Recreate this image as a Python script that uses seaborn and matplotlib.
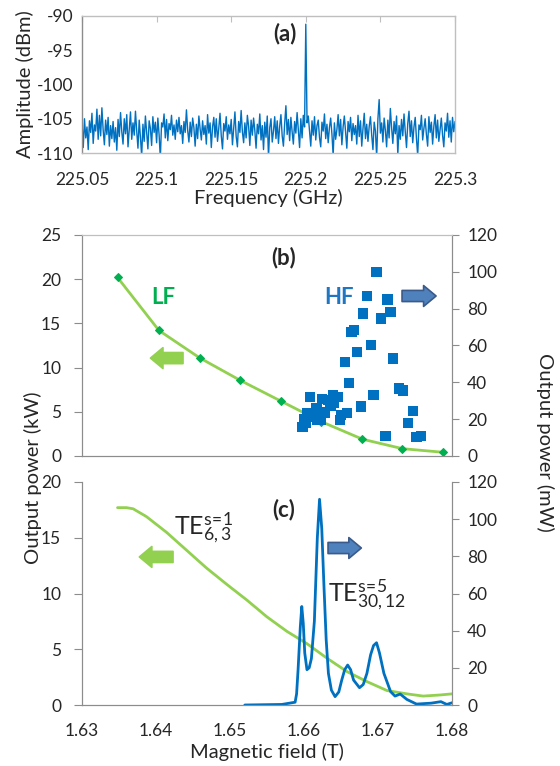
import numpy as np
import pandas as pd
import matplotlib
matplotlib.use("Agg")
import matplotlib.pyplot as plt
import seaborn as sns

# ---- panel (a): spectrum ----
amp_dbm = [
    -105.5, -109.2, -105.0, -107.8, -106.2, -109.5, -105.3, -107.0, -104.2, -108.6,
    -105.9, -106.8, -103.6, -108.0, -104.5, -107.5, -103.4, -106.6, -108.8, -105.2,
    -107.3, -104.8, -109.0, -106.0, -107.9, -105.4, -108.4, -106.3, -109.6, -105.1,
    -107.6, -104.1, -106.9, -108.7, -105.0, -107.2, -104.4, -109.1, -106.5, -104.0,
    -108.0, -105.6, -107.4, -103.9, -106.8, -109.3, -105.2, -107.7, -110.5, -105.8,
    -108.3, -104.6, -107.1, -109.4, -105.3, -106.4, -108.9, -104.7, -107.0, -105.5,
    -108.5, -104.9, -107.3, -110.8, -105.6, -106.2, -104.3, -107.8, -105.1, -108.2,
    -105.7, -106.6, -104.5, -107.4, -105.9, -108.0, -105.2, -106.9, -104.8, -107.2,
    -106.0, -108.6, -105.4, -107.0, -103.7, -106.7, -108.4, -105.5, -107.6, -104.9,
    -106.3, -109.0, -105.8, -107.9, -104.6, -106.5, -108.1, -105.3, -107.3, -106.0,
    -108.7, -104.4, -107.1, -105.6, -109.2, -106.2, -104.8, -107.7, -105.0, -108.3,
    -106.4, -104.2, -107.5, -109.4, -105.7, -106.8, -104.7, -108.0, -105.9, -107.2,
    -105.1, -108.8, -106.5, -104.0, -107.6, -109.1, -105.4, -107.0, -103.8, -106.9,
    -108.5, -105.6, -107.8, -104.5, -106.1, -108.9, -105.2, -107.4, -104.9, -106.7,
    -109.3, -105.8, -107.2, -104.3, -108.1, -106.0, -109.5, -105.5, -107.7, -104.6,
    -110.7, -106.3, -105.0, -108.4, -106.8, -104.7, -107.9, -105.3, -108.6, -106.1,
    -104.4, -107.5, -109.0, -105.7, -103.1, -107.3, -105.1, -108.2, -104.8, -106.9,
    -108.7, -105.4, -107.1, -104.1, -106.6, -109.2, -105.0, -107.8, -104.5, -106.2,
    -91.2,
    -105.6, -104.6, -106.9, -109.0, -105.3, -107.4, -104.7, -108.1, -106.0, -105.2,
    -107.7, -109.1, -105.5, -106.8, -104.3, -107.9, -105.8, -108.5, -106.3,
    -104.9, -107.2, -110.4, -105.6, -108.0, -106.6, -104.4, -107.5, -105.1, -108.8,
    -106.2, -104.6, -107.0, -109.3, -105.4, -106.9, -104.8, -108.2, -105.7, -107.3,
    -106.0, -108.7, -104.5, -107.6, -105.3, -109.0, -106.4, -104.2, -107.9, -105.8,
    -108.3, -106.1, -104.7, -107.4, -109.5, -105.5, -106.8, -110.6, -105.0, -102.2,
    -107.1, -105.6, -108.4, -104.9, -106.7, -109.1, -105.2, -107.8, -103.5, -106.3,
    -108.6, -105.4, -107.2, -104.6, -110.3, -106.0, -108.0, -105.1, -107.5, -104.3,
    -106.9, -109.2, -105.7, -103.9, -107.6, -105.3, -108.5, -106.2, -104.8, -107.9,
    -110.4, -105.9, -106.6, -104.5, -108.1, -106.4, -105.0, -107.3, -109.0, -104.7,
    -107.0, -105.5, -108.7, -106.1, -104.4, -107.8, -105.2, -108.3, -106.6, -104.9,
    -107.4, -109.1, -105.6, -106.8, -104.2, -107.7, -105.3, -108.4, -104.8, -106.9,
    -105.4,
]
freq_ghz = np.linspace(225.05, 225.3, len(amp_dbm))
freq_ticks = [225.05, 225.1, 225.15, 225.2, 225.25, 225.3]
freq_ticklabels = ["225.05", "225.1", "225.15", "225.2", "225.25", "225.3"]

# ---- panel (b): LF gyrotron (kW) and HF (mW) vs field ----
lf_field = [1.6348, 1.6404, 1.6459, 1.6514, 1.6569, 1.6623, 1.6679, 1.6733, 1.6788]
lf_power_kw = [20.2, 14.2, 11.1, 8.55, 6.2, 3.9, 1.9, 0.83, 0.42]

hf_field = [1.6698, 1.6685, 1.6713, 1.6680, 1.6717, 1.6704, 1.6668, 1.6664, 1.6691,
            1.6672, 1.6720, 1.6655, 1.6661, 1.6728, 1.6734, 1.6694, 1.6608, 1.6624,
            1.6639, 1.6646, 1.6641, 1.6633, 1.6677, 1.6747, 1.6658, 1.6650, 1.6628,
            1.6617, 1.6619, 1.6604, 1.6600, 1.6598, 1.6603, 1.6618, 1.6623, 1.6710,
            1.6741, 1.6752, 1.6758, 1.6649, 1.6612, 1.6636]
hf_power_mw = [100, 86.7, 85, 77.3, 78.2, 74.7, 68.6, 67.5, 60.3,
               56.6, 53, 50.9, 39.5, 36.7, 35.5, 33.1, 32.2, 31,
               33.1, 32.2, 28.9, 30.4, 26.8, 24.6, 23.5, 22.3, 23.7,
               25.8, 22.5, 23.2, 20, 15.6, 18.1, 19.5, 19.5, 10.9,
               18.1, 10.5, 10.9, 19.5, 21.5, 27.5]

# ---- panel (c): simulation ----
sim_lf_field = [1.6348, 1.6360, 1.6369, 1.6387, 1.6414, 1.6441, 1.6468, 1.6496,
                1.6523, 1.6550, 1.6577, 1.6604, 1.6631, 1.6658, 1.6685, 1.6712,
                1.6739, 1.6761, 1.6784, 1.6800]
sim_lf_kw = [17.7, 17.7, 17.6, 16.9, 15.5, 13.9, 12.3, 10.8,
             9.4, 7.9, 6.6, 5.5, 4.2, 3.0, 2.1, 1.3,
             1.0, 0.8, 0.9, 1.0]

sim_hf_field = [1.6520, 1.6570, 1.6588, 1.6590, 1.6592, 1.6595, 1.6597, 1.6599,
                1.6601, 1.6604, 1.6607, 1.6610, 1.6614, 1.6618, 1.6621, 1.6624,
                1.6627, 1.6630, 1.6633, 1.6637, 1.6642, 1.6647, 1.6651, 1.6655,
                1.6659, 1.6663, 1.6667, 1.6675, 1.6680, 1.6685, 1.6690, 1.6694,
                1.6698, 1.6702, 1.6708, 1.6717, 1.6723, 1.6730, 1.6739, 1.6752,
                1.6772, 1.6785, 1.6793, 1.6800]
sim_hf_mw = [0, 0.3, 1.5, 6, 19, 42, 53, 44,
             28, 19, 20, 25, 45, 90, 110.7, 95,
             63.7, 35, 17, 8, 4.5, 7, 13.4, 19,
             21.5, 19, 13.4, 9.3, 11, 17, 27, 32,
             33.5, 28, 17, 7.2, 4.8, 5.9, 3, 0.5,
             1, 1.8, 0.3, 1.2]

BLUE = "#0070c0"
LGREEN = "#92d050"
DGREEN = "#00b050"
GRAY = "#8c8c8c"
LGRAY = "#bfbfbf"

sns.set_style("white")
plt.rcParams["font.family"] = ["Lato", "DejaVu Sans"]
plt.rcParams["mathtext.fontset"] = "custom"
plt.rcParams["mathtext.rm"] = "Lato"
plt.rcParams["mathtext.it"] = "Lato:italic"
plt.rcParams["axes.unicode_minus"] = False

TICK_FS = 12.5
LABEL_FS = 14.5

W, H = 560, 766
fig = plt.figure(figsize=(W / 100, H / 100), dpi=100)


def box(left, top, right, bottom):
    return [left / W, 1 - bottom / H, (right - left) / W, (bottom - top) / H]


# ---------------- (a) ----------------
axa = fig.add_axes(box(82, 16, 455, 153))
sns.lineplot(x=freq_ghz, y=amp_dbm, ax=axa, color=BLUE, lw=1.0, estimator=None)
axa.set_xlim(225.05, 225.3)
axa.set_ylim(-110, -90)
axa.set_xticks(freq_ticks)
axa.set_xticklabels(freq_ticklabels)
axa.set_yticks([-110, -105, -100, -95, -90])
axa.tick_params(direction="in", length=4, color=LGRAY, labelsize=TICK_FS,
                top=True, right=False, pad=6)
axa.tick_params(axis="x", pad=14)
for side, sp in axa.spines.items():
    sp.set_color(LGRAY if side != "left" else GRAY)
    sp.set_linewidth(1.0)
axa.set_xlabel("Frequency (GHz)", fontsize=LABEL_FS, labelpad=0)
axa.set_ylabel("Amplitude (dBm)", fontsize=LABEL_FS, labelpad=2)
axa.text(0.545, 0.875, "(a)", transform=axa.transAxes, ha="center", va="center",
         fontsize=16, fontweight="bold")


def arrow(ax, x0, x1, y, fc, ec):
    ax.annotate("", xy=(x1, y), xytext=(x0, y), xycoords="axes fraction",
                textcoords="axes fraction",
                arrowprops=dict(arrowstyle="simple,head_width=15,head_length=9,tail_width=8",
                                mutation_scale=1, fc=fc, ec=ec, lw=1.2,
                                shrinkA=0, shrinkB=0))


# ---------------- (b) ----------------
axb = fig.add_axes(box(82, 235, 452, 456))
axb2 = axb.twinx()
sns.lineplot(x=lf_field, y=lf_power_kw, ax=axb, color=LGREEN, lw=2.0,
             marker="D", markersize=4.5, markerfacecolor=DGREEN,
             markeredgecolor=DGREEN, estimator=None)
sns.scatterplot(x=hf_field, y=hf_power_mw, ax=axb2, color=BLUE, marker="s",
                s=55, edgecolor="none", zorder=3)
axb.set_xlim(1.63, 1.68)
axb.set_ylim(0, 25)
axb2.set_ylim(0, 120)
axb.set_yticks([0, 5, 10, 15, 20, 25])
axb2.set_yticks([0, 20, 40, 60, 80, 100, 120])
axb.set_xticks([1.63, 1.64, 1.65, 1.66, 1.67, 1.68])
axb.tick_params(axis="x", direction="in", length=4, color=GRAY, labelbottom=False)
axb.tick_params(axis="y", direction="out", length=6, color=GRAY, labelsize=TICK_FS, pad=9)
axb2.tick_params(axis="y", direction="out", length=5, color=GRAY, labelsize=TICK_FS, pad=6)
for ax in (axb, axb2):
    for side, sp in ax.spines.items():
        sp.set_color(GRAY if side in ("left", "right", "bottom") else LGRAY)
axb.text(0.545, 0.9, "(b)", transform=axb.transAxes, ha="center", va="center",
         fontsize=16, fontweight="bold")
axb.text(0.22, 0.715, "LF", transform=axb.transAxes, ha="center", va="center",
         fontsize=16, fontweight="bold", color=DGREEN)
axb.text(0.695, 0.715, "HF", transform=axb.transAxes, ha="center", va="center",
         fontsize=16, fontweight="bold", color="#1f77c4")
arrow(axb, 0.273, 0.185, 0.443, LGREEN, LGREEN)
arrow(axb, 0.865, 0.957, 0.724, "#4f81bd", "#3a5a8a")

# ---------------- (c) ----------------
axc = fig.add_axes(box(82, 482, 452, 705))
axc2 = axc.twinx()
sns.lineplot(x=sim_lf_field, y=sim_lf_kw, ax=axc, color=LGREEN, lw=2.0, estimator=None)
sns.lineplot(x=sim_hf_field, y=sim_hf_mw, ax=axc2, color=BLUE, lw=2.0, estimator=None)
axc.set_xlim(1.63, 1.68)
axc.set_ylim(0, 20)
axc2.set_ylim(0, 120)
axc.set_yticks([0, 5, 10, 15, 20])
axc2.set_yticks([0, 20, 40, 60, 80, 100, 120])
axc.set_xticks([1.63, 1.64, 1.65, 1.66, 1.67, 1.68])
axc.set_xticklabels(["1.63", "1.64", "1.65", "1.66", "1.67", "1.68"])
axc.tick_params(axis="x", direction="in", length=4, color=GRAY, labelsize=TICK_FS, pad=13)
axc.tick_params(axis="y", direction="out", length=6, color=GRAY, labelsize=TICK_FS, pad=9)
axc2.tick_params(axis="y", direction="out", length=5, color=GRAY, labelsize=TICK_FS, pad=6)
for ax in (axc, axc2):
    ax.spines["top"].set_visible(False)
    for side in ("left", "right", "bottom"):
        ax.spines[side].set_color(GRAY)
axc.set_xlabel("Magnetic field (T)", fontsize=LABEL_FS, labelpad=3)
axc.text(0.545, 0.875, "(c)", transform=axc.transAxes, ha="center", va="center",
         fontsize=16, fontweight="bold")
axc.text(0.25, 0.79, r"TE$_{\mathrm{6,3}}^{\mathrm{s\!=\!1}}$", transform=axc.transAxes,
         ha="left", va="center", fontsize=18)
axc.text(0.665, 0.49, r"TE$_{\mathrm{30,12}}^{\mathrm{s\!=\!5}}$", transform=axc.transAxes,
         ha="left", va="center", fontsize=18)
arrow(axc, 0.246, 0.155, 0.664, LGREEN, LGREEN)
arrow(axc, 0.665, 0.755, 0.704, "#4f81bd", "#3a5a8a")

for ax in (axb, axb2, axc, axc2):
    ax.set_ylabel("")

fig.text(33 / W, 1 - 478 / H, "Output power (kW)", rotation=90, ha="center",
         va="center", fontsize=LABEL_FS)
fig.text(545 / W, 1 - 442 / H, "Output power (mW)", rotation=270, ha="center",
         va="center", fontsize=LABEL_FS)

fig.savefig("out.png", dpi=100)
